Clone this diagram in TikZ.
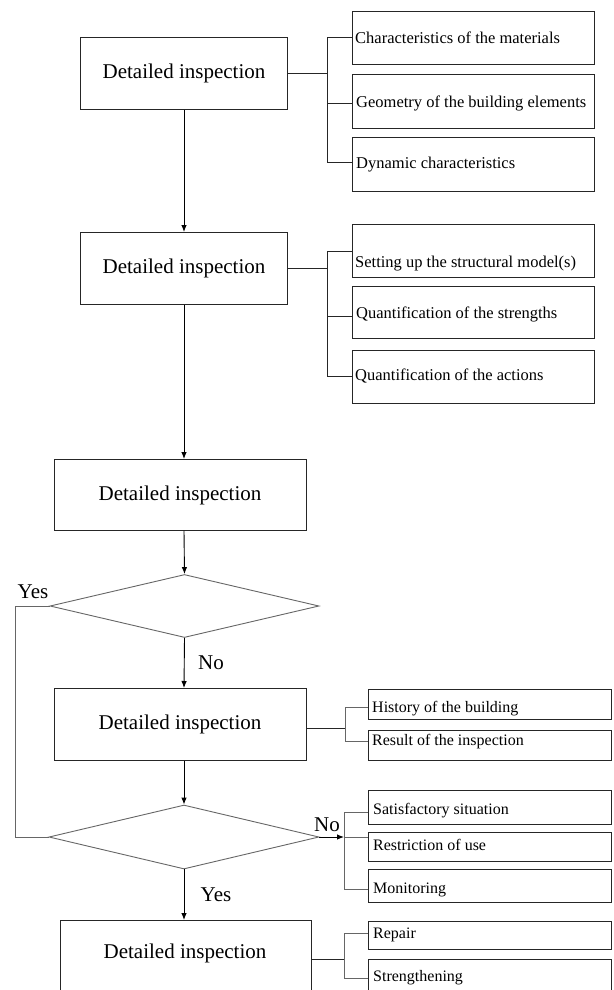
\documentclass[tikz,border=0pt]{standalone}
\usepackage{fontspec}
\setmainfont{Liberation Serif}
\usetikzlibrary{shapes.geometric,arrows.meta}
\newcommand{\bigtxt}[1]{{\fontsize{21}{24}\selectfont #1}}
\newcommand{\smtxt}[1]{{\fontsize{16.5}{19}\selectfont #1}}
\newcommand{\lotxt}[1]{{\fontsize{16}{19}\selectfont #1}}
\tikzset{
  mainbox/.style={draw=black!85, line width=0.9pt, rectangle, inner sep=0pt},
  sidebox/.style={draw=black!85, line width=0.9pt, rectangle, inner sep=0pt},
  sidetxt/.style={anchor=base west, inner sep=0pt},
  bigtext/.style={inner sep=0pt},
  decide/.style={draw=black!60, line width=0.9pt, diamond, inner sep=0pt},
  conn/.style={draw=black!85, line width=0.9pt},
  gconn/.style={draw=black!60, line width=0.9pt},
  arr/.style={draw=black, line width=0.9pt, -{Latex[length=7pt,width=5.5pt]}},
}
\newcommand{\boxat}[5]{\node[#1, minimum width=#4, minimum height=#5, anchor=north west] (#2) at (#3) {};}
\begin{document}
\begin{tikzpicture}[x=1pt,y=-1pt]
\useasboundingbox (0,0) rectangle (613,990);
\clip (0,0) rectangle (613,990);
\coordinate (col) at (184,0);

% main boxes
\boxat{mainbox}{b1}{80,37}{207}{72}
\boxat{mainbox}{b2}{80,232}{207}{72}
\boxat{mainbox}{b3}{54,459}{252}{71}
\boxat{mainbox}{b4}{54,688}{252}{72}
\boxat{mainbox}{b6}{60,920}{251}{80}
\node[bigtext] (t1) at (184,73) {\bigtxt{Detailed inspection}};
\node[bigtext] (t2) at (184,268) {\bigtxt{Detailed inspection}};
\node[bigtext] (t3) at (180,495) {\bigtxt{Detailed inspection}};
\node[bigtext] (t4) at (180,724) {\bigtxt{Detailed inspection}};
\node[bigtext] (t6) at (185,953) {\bigtxt{Detailed inspection}};

% side boxes group 1
\boxat{sidebox}{sa}{352,11}{242}{53}
\boxat{sidebox}{sb}{352,74}{242}{54}
\boxat{sidebox}{sc}{352,137}{242}{54}
\node[sidetxt] (ta) at (355,44) {\smtxt{Characteristics of the materials}};
\node[sidetxt] (tb) at (356,107) {\smtxt{Geometry of the building elements}};
\node[sidetxt] (tc) at (356,168) {\smtxt{Dynamic characteristics}};
% group 2
\boxat{sidebox}{sd}{352,224}{242}{53}
\boxat{sidebox}{se}{352,286}{242}{52}
\boxat{sidebox}{sf}{352,350}{242}{53}
\node[sidetxt] (td) at (355,267) {\smtxt{Setting up the structural model(s)}};
\node[sidetxt] (te) at (356,318) {\smtxt{Quantification of the strengths}};
\node[sidetxt] (tf) at (355,380) {\smtxt{Quantification of the actions}};
% group 4
\boxat{sidebox}{sg}{368,689}{243}{30}
\boxat{sidebox}{sh}{368,730}{243}{30}
\node[sidetxt] (tg) at (372,712) {\lotxt{History of the building}};
\node[sidetxt] (th) at (372,745) {\lotxt{Result of the inspection}};
% group 5
\boxat{sidebox}{si}{368,790}{243}{34}
\boxat{sidebox}{sj}{368,832}{243}{29}
\boxat{sidebox}{sk}{368,869}{243}{33}
\node[sidetxt] (ti) at (373,814) {\lotxt{Satisfactory situation}};
\node[sidetxt] (tj) at (373,850) {\lotxt{Restriction of use}};
\node[sidetxt] (tk) at (373,893) {\lotxt{Monitoring}};
% group 6
\boxat{sidebox}{sl}{368,921}{243}{28}
\boxat{sidebox}{sm}{368,959}{243}{45}
\node[sidetxt] (tl) at (373,938) {\lotxt{Repair}};
\node[sidetxt] (tm) at (373,981) {\lotxt{Strengthening}};

% decisions
\node[decide, minimum width=269, minimum height=63] (d1) at (184.5,606) {};
\node[decide, minimum width=270, minimum height=64] (d2) at (184,837) {};

% labels
\node[bigtext] (yes1) at (33,592) {\bigtxt{Yes}};
\node[bigtext] (no1) at (211,663) {\bigtxt{No}};
\node[bigtext] (no2) at (327,825) {\bigtxt{No}};
\node[bigtext] (yes2) at (216,895) {\bigtxt{Yes}};

% main arrows
\draw[arr] (col |- b1.south) -- (col |- b2.north);
\draw[arr] (col |- b2.south) -- (col |- b3.north);
\draw[arr] (col |- b3.south) -- (d1.north);
\draw[arr] (d1.south) -- (col |- b4.north);
\draw[arr] (col |- b4.south) -- (d2.north);
\draw[arr] (d2.south) -- (col |- b6.north);

% loop (Yes)
\coordinate (lp1) at (15,606);
\coordinate (lp2) at (15,837);
\draw[gconn] (d1.west) -- (lp1) -- (lp2) -- (d2.west);

% group 1 connectors
\coordinate (j1a) at (327,37);
\coordinate (j1b) at (327,103);
\coordinate (j1c) at (327,162);
\draw[conn] (b1.east) -- (b1.east -| j1a);
\draw[conn] (sa.west |- j1a) -- (j1a) -- (j1c) -- (sc.west |- j1c);
\draw[conn] (j1b) -- (sb.west |- j1b);
% group 2
\coordinate (j2a) at (327,251);
\coordinate (j2b) at (327,316);
\coordinate (j2c) at (327,376);
\draw[conn] (b2.east) -- (b2.east -| j2a);
\draw[conn] (sd.west |- j2a) -- (j2a) -- (j2c) -- (sf.west |- j2c);
\draw[conn] (j2b) -- (se.west |- j2b);
% group 4
\coordinate (j4m) at (345,728);
\coordinate (j4a) at (345,707);
\coordinate (j4b) at (345,741);
\draw[conn] (b4.east |- j4m) -- (j4m);
\draw[gconn] (sg.west |- j4a) -- (j4a) -- (j4b) -- (sh.west |- j4b);
% group 5
\coordinate (j5m) at (344,837);
\coordinate (j5a) at (344,812);
\coordinate (j5b) at (344,889);
\draw[arr] (d2.east) -- (j5m);
\draw[gconn] (si.west |- j5a) -- (j5a) -- (j5b) -- (sk.west |- j5b);
\draw[gconn] (j5m) -- (sj.west |- j5m);
% group 6
\coordinate (j6m) at (344,959);
\coordinate (j6a) at (344,933);
\coordinate (j6b) at (344,978);
\draw[conn] (b6.east |- j6m) -- (j6m);
\draw[gconn] (sl.west |- j6a) -- (j6a) -- (j6b) -- (sm.west |- j6b);
\end{tikzpicture}
\end{document}
